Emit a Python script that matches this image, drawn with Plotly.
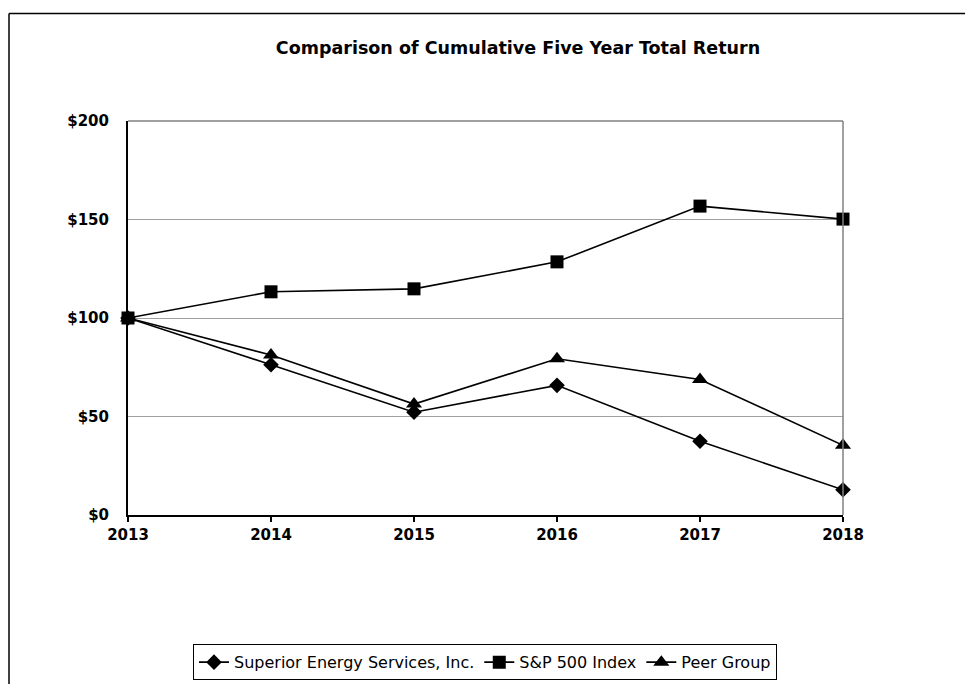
import plotly.graph_objects as go

years = [2013, 2014, 2015, 2016, 2017, 2018]
superior = [100, 76.3, 52.2, 65.8, 37.4, 12.8]
sp500 = [100, 113.3, 114.8, 128.5, 156.8, 150.2]
peer = [100, 81.2, 56.3, 79.3, 68.8, 35.4]
y_ticks = [0, 50, 100, 150, 200]
y_labels = ["$0", "$50", "$100", "$150", "$200"]

fig = go.Figure()
series = [
    ("Superior Energy Services, Inc.", superior, "diamond", 12),
    ("S&P 500 Index", sp500, "square", 13),
    ("Peer Group", peer, "triangle-up", 14),
]
for name, vals, sym, sz in series:
    fig.add_trace(go.Scatter(
        x=years, y=vals, name=name, mode="lines+markers",
        line=dict(color="black", width=1.6),
        marker=dict(symbol=sym, size=sz, color="black"),
        cliponaxis=False,
    ))

# page is rendered with an 8px body offset; coordinates below are figure pixels
OFF = 8
L, R, T, B = 128 - OFF, 130 + OFF, 121 - OFF, 167 + OFF
W, H = 973, 684
pw, ph = W - L - R, H - T - B

def px_x(p):
    return (p - OFF - L) / pw

def px_y(p):
    return (H - B - (p - OFF)) / ph

FONT = "DejaVu Sans, Liberation Sans, Arial, sans-serif"

fig.update_layout(
    width=W, height=H,
    margin=dict(l=L, r=R, t=T, b=B),
    paper_bgcolor="white", plot_bgcolor="white",
    font=dict(family=FONT, color="black"),
    title=dict(text="<b>Comparison of Cumulative Five Year Total Return</b>",
               x=(518 - OFF) / W, xanchor="center", y=1 - (48 - OFF) / H, yanchor="middle",
               font=dict(size=17.5)),
    showlegend=True,
    legend=dict(orientation="h", x=px_x(485), xanchor="center",
                y=px_y(665), yanchor="middle",
                bordercolor="black", borderwidth=1,
                font=dict(size=16), tracegroupgap=0),
    xaxis=dict(range=[2013, 2018], tickvals=years,
               ticktext=[str(y) for y in years],
               showgrid=False, showline=True, linecolor="black", linewidth=2,
               ticks="outside", ticklen=5, tickcolor="black", tickwidth=1.5,
               tickfont=dict(size=15, family=FONT, weight="bold"),
               zeroline=False, fixedrange=True),
    yaxis=dict(range=[0, 200], tickvals=y_ticks, ticktext=y_labels,
               showgrid=True, gridcolor="#a0a0a0", gridwidth=1,
               showline=True, linecolor="black", linewidth=2,
               ticks="", ticklabelstandoff=14,
               tickfont=dict(size=15, family=FONT, weight="bold"),
               zeroline=False),
)

# plot area top and right border
fig.add_shape(type="line", xref="paper", yref="paper", x0=0, x1=1, y0=1, y1=1,
              line=dict(color="#404040", width=1.2))
fig.add_shape(type="line", xref="paper", yref="paper", x0=1, x1=1, y0=0, y1=1,
              line=dict(color="#808080", width=1.5))
# outer frame (top and left)
fig.add_shape(type="line", xref="paper", yref="paper",
              x0=px_x(9), x1=px_x(1000), y0=px_y(13), y1=px_y(13),
              line=dict(color="black", width=1.5))
fig.add_shape(type="line", xref="paper", yref="paper",
              x0=px_x(9), x1=px_x(9), y0=px_y(13), y1=px_y(720),
              line=dict(color="black", width=1.5))

fig.write_html("out.html")
